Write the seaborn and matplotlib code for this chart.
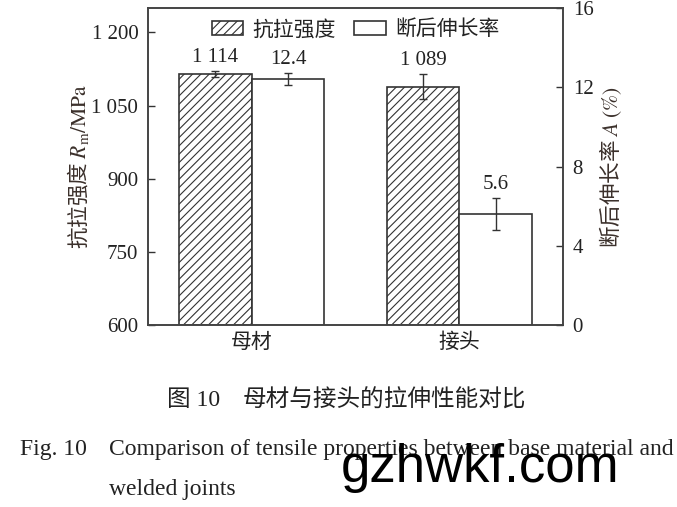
import numpy as np
import pandas as pd
import matplotlib
matplotlib.use("Agg")
import matplotlib.pyplot as plt
import seaborn as sns
from matplotlib.patches import Patch

# data
materials = ["母材", "接头"]
strength = [1114, 1089]          # MPa
strength_err = [6, 25]
elongation = [12.4, 5.6]         # %
elongation_err = [0.3, 0.8]
strength_labels = ["1 114", "1 089"]
elong_labels = ["12.4", "5.6"]
metrics = ["抗拉强度", "断后伸长率"]

sns.set_style("ticks")
plt.rcParams['font.family'] = ['Liberation Serif', 'Noto Sans CJK SC']
plt.rcParams['mathtext.fontset'] = 'stix'
plt.rcParams['hatch.linewidth'] = 0.8
plt.rcParams['hatch.color'] = '#333333'

dark = '#333333'
text_col = '#222222'
label_col = '#3b302b'

# long table, one axis per metric (the other metric masked out)
df = pd.DataFrame({
    "材料": materials * 2,
    "指标": [metrics[0]] * 2 + [metrics[1]] * 2,
    "值": strength + elongation,
})
df_s = df.copy()
df_s.loc[df_s["指标"] != metrics[0], "值"] = np.nan
df_e = df.copy()
df_e.loc[df_e["指标"] != metrics[1], "值"] = np.nan

fig = plt.figure(figsize=(6.77, 5.07), dpi=100)
ax = fig.add_axes([148 / 677, 1 - 325 / 507, 415 / 677, 317 / 507])
ax2 = ax.twinx()

sns.barplot(data=df_s, x="材料", y="值", hue="指标", hue_order=metrics, order=materials,
            width=0.7, errorbar=None, ax=ax, legend=False)
sns.barplot(data=df_e, x="材料", y="值", hue="指标", hue_order=metrics, order=materials,
            width=0.7, errorbar=None, ax=ax2, legend=False)

def real_bars(a):
    return [p for p in a.patches if np.isfinite(p.get_height()) and p.get_height() > 0]

s_bars = sorted(real_bars(ax), key=lambda p: p.get_x())
e_bars = sorted(real_bars(ax2), key=lambda p: p.get_x())

for p in s_bars:
    p.set_facecolor('white')
    p.set_edgecolor(dark)
    p.set_hatch('////')
    p.set_linewidth(1.2)
    p.set_y(600)
    p.set_height(p.get_height() - 600)
for p in e_bars:
    p.set_facecolor('white')
    p.set_edgecolor(dark)
    p.set_linewidth(1.2)

ax.set_ylim(600, 1250)
ax2.set_ylim(0, 16)
ax.set_xlim(-0.5, 1.5)

# error bars and value labels
for p, v, e, t in zip(s_bars, strength, strength_err, strength_labels):
    xc = p.get_x() + p.get_width() / 2
    ax.errorbar(xc, v, yerr=e, fmt='none', ecolor=dark, elinewidth=1.0, capsize=3, capthick=1.0)
    ax.text(xc, v + e + 8, t, ha='center', va='bottom', fontsize=15, color=text_col)
for p, v, e, t in zip(e_bars, elongation, elongation_err, elong_labels):
    xc = p.get_x() + p.get_width() / 2
    ax2.text(xc, v + e + 0.2, t, ha='center', va='bottom', fontsize=15, color=text_col)
    ax2.errorbar(xc, v, yerr=e, fmt='none', ecolor=dark, elinewidth=1.0, capsize=3, capthick=1.0)

ax.set_yticks([600, 750, 900, 1050, 1200])
ax.set_yticklabels(["600", "750", "900", "1 050", "1 200"])
ax2.set_yticks([0, 4, 8, 12, 16])

for a in (ax, ax2):
    a.tick_params(axis='y', direction='in', length=5, width=1, labelsize=15,
                  colors=dark, labelcolor=text_col, pad=7)
    for s in a.spines.values():
        s.set_color('#444444')
        s.set_linewidth(1.2)
ax.tick_params(axis='x', length=0, labelsize=15, labelcolor=text_col, pad=6)

ax.set_xlabel("")
ax.set_ylabel(r"抗拉强度 $R_\mathrm{m}/\mathrm{MPa}$", fontsize=15.5, color=label_col,
              labelpad=0, family='Noto Sans CJK SC')
ax2.set_ylabel(r"断后伸长率 $A\ \mathrm{(\%)}$", fontsize=15.5, color=label_col,
               labelpad=3, family='Noto Sans CJK SC')

handles = [Patch(facecolor='white', edgecolor=dark, hatch='////', linewidth=1.2),
           Patch(facecolor='white', edgecolor=dark, linewidth=1.2)]
ax.legend(handles, metrics, loc='upper center', ncol=2, frameon=False, fontsize=15,
          bbox_to_anchor=(0.5, 1.02), handlelength=1.5, handleheight=0.6,
          columnspacing=0.9, handletextpad=0.45, labelcolor=text_col)

# captions
fig.text(167 / 677, 1 - 401 / 507, "图 10", ha='left', va='center', fontsize=17, color=text_col)
fig.text(243 / 677, 1 - 401 / 507, "母材与接头的拉伸性能对比", ha='left', va='center',
         fontsize=17, color=text_col)
fig.text(20 / 677, 1 - 449 / 507, "Fig. 10", ha='left', va='center', fontsize=17, color=text_col)
fig.text(109 / 677, 1 - 449 / 507, "Comparison of tensile properties between base material and",
         ha='left', va='center', fontsize=17, color=text_col)
fig.text(109 / 677, 1 - 490 / 507, "welded joints", ha='left', va='center', fontsize=17, color=text_col)
fig.text(480 / 677, 1 - 468 / 507, "gzhwkf.com", ha='center', va='center', fontsize=38,
         family='Liberation Sans', color='black')

fig.savefig("out.png", dpi=100)
